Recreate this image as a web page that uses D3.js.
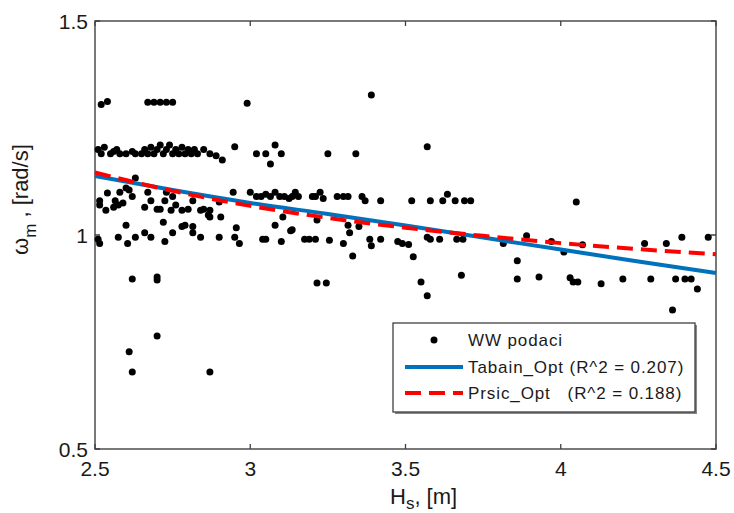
<!DOCTYPE html>
<meta charset="utf-8">
<style>
body { margin: 0; background: #fff; }
text { font-family: "Liberation Sans", Arial, sans-serif; fill: #1a1a1a; }
</style>
<div id="viz"></div>
<script src="https://d3js.org/d3.v7.min.js"></script>
<script>
// measured points [Hs, omega_m]
var wwData = [
  [2.52,1.305],[2.54,1.312],[2.67,1.31],[2.69,1.31],[2.71,1.31],[2.73,1.31],[2.75,1.31],[2.99,1.308],[3.39,1.327],
  [2.51,1.20],[2.52,1.19],[2.53,1.205],[2.55,1.19],[2.56,1.195],[2.57,1.20],[2.58,1.19],[2.60,1.19],[2.62,1.195],
  [2.63,1.19],[2.65,1.19],[2.66,1.20],[2.67,1.19],[2.68,1.205],[2.69,1.19],[2.70,1.20],[2.71,1.21],[2.72,1.19],
  [2.73,1.20],[2.74,1.21],[2.75,1.19],[2.76,1.20],[2.77,1.19],[2.78,1.205],[2.79,1.19],[2.80,1.20],[2.81,1.19],
  [2.82,1.20],[2.83,1.19],[2.85,1.20],[2.87,1.19],[2.89,1.185],[2.91,1.175],[2.95,1.206],[3.02,1.19],[3.05,1.19],
  [3.08,1.21],[3.10,1.19],[3.065,1.166],[3.25,1.19],[3.34,1.19],[3.57,1.206],
  [2.63,1.133],
  [2.515,1.07],[2.54,1.098],[2.535,1.058],[2.565,1.08],[2.575,1.07],[2.58,1.10],[2.60,1.11],[2.61,1.105],[2.62,1.09],
  [2.59,1.075],[2.56,1.065],[2.515,1.08],[2.67,1.10],[2.66,1.065],[2.68,1.08],[2.70,1.06],[2.71,1.06],[2.725,1.08],
  [2.73,1.10],[2.75,1.09],[2.745,1.058],[2.78,1.058],[2.815,1.08],[2.84,1.058],[2.85,1.06],[2.87,1.058],[2.905,1.042],
  [2.87,1.042],[2.865,1.047],[2.90,1.077],[2.945,1.10],[2.76,1.07],[2.80,1.06],
  [3.0,1.10],[3.02,1.09],[3.035,1.09],[3.05,1.095],[3.065,1.09],[3.08,1.10],[3.095,1.09],[3.11,1.09],[3.125,1.085],
  [3.135,1.09],[3.145,1.10],[3.155,1.09],[3.20,1.09],[3.21,1.09],[3.225,1.10],[3.235,1.085],[3.28,1.09],[3.30,1.09],
  [3.315,1.09],[3.36,1.09],[3.37,1.08],[3.42,1.08],[3.52,1.08],[3.58,1.08],[3.62,1.08],[3.635,1.095],[3.66,1.08],
  [3.69,1.08],[3.71,1.08],[4.05,1.077],
  [3.08,1.023],[3.105,1.042],[3.135,1.012],[3.215,1.035],[3.315,1.023],[3.32,1.005],[3.35,1.02],
  [2.60,1.023],[2.72,1.03],[2.78,1.02],[2.79,1.023],[2.815,1.02],[2.955,1.017],[3.13,1.01],[2.75,1.005],[2.66,1.005],[2.815,1.005],
  [2.51,0.99],[2.515,0.98],[2.575,0.995],[2.605,0.98],[2.63,0.995],[2.68,0.995],[2.725,0.985],[2.84,0.995],[2.90,0.995],
  [2.95,0.995],[2.965,0.98],[3.04,0.99],[3.05,0.99],[3.10,0.985],[3.175,0.99],[3.19,0.99],[3.21,0.99],[3.255,0.988],
  [3.30,0.98],[3.385,0.99],[3.39,0.975],[3.42,0.99],[3.475,0.985],[3.49,0.98],[3.51,0.978],[3.57,0.995],[3.58,0.99],
  [3.61,0.99],[3.665,0.99],[3.685,0.99],[3.815,0.98],[3.89,0.998],[3.97,0.985],[4.01,0.96],[4.07,0.977],[4.27,0.98],
  [4.34,0.98],[4.39,0.995],[4.475,0.995],
  [3.33,0.951],[3.525,0.949],[3.86,0.94],[2.62,0.897],[2.70,0.902],[2.70,0.895],[3.215,0.888],[3.245,0.888],[3.55,0.89],
  [3.57,0.858],[3.68,0.906],[3.86,0.897],[3.93,0.902],[4.03,0.90],[4.04,0.89],[4.055,0.89],[4.13,0.886],[4.20,0.897],
  [4.29,0.897],[4.37,0.897],[4.40,0.897],[4.42,0.897],[4.44,0.874],[4.36,0.825],
  [2.70,0.764],[2.61,0.727],[2.62,0.68],[2.87,0.68]
];

// fitted curves
var fitHs       = [2.5, 2.75, 3, 3.25, 3.5, 3.75, 4, 4.25, 4.5];
var tabainOmega = [1.138, 1.105, 1.075, 1.049, 1.022, 0.994, 0.966, 0.938, 0.911];
var prsicOmega  = [1.146, 1.103, 1.068, 1.040, 1.017, 0.998, 0.981, 0.967, 0.955];

var xTicks = [2.5, 3, 3.5, 4, 4.5];
var yTicks = [0.5, 1, 1.5];
var legendLabels = ["WW podaci", "Tabain_Opt (R^2 = 0.207)", "Prsic_Opt   (R^2 = 0.188)"];

var W = 734, H = 513;
var margin = {top: 21, right: 18, bottom: 64, left: 95};
var width  = W - margin.left - margin.right;
var height = H - margin.top - margin.bottom;

var svg = d3.select('#viz').append('svg')
    .attr('width', W).attr('height', H)
  .append('g')
    .attr('transform', 'translate(' + margin.left + ',' + margin.top + ')');

var x = d3.scaleLinear().domain([2.5, 4.5]).range([0, width]);
var y = d3.scaleLinear().domain([0.5, 1.5]).range([height, 0]);

var axisColor = '#404040';
var tickLen = 5;

// box
svg.append('rect')
    .attr('width', width).attr('height', height)
    .attr('fill', 'none').attr('stroke', axisColor).attr('stroke-width', 1.4);

// ticks on all four sides (inward)
svg.selectAll('.xt').data(xTicks).enter().append('path')
    .attr('d', function(d) { return 'M' + x(d) + ',' + height + 'v' + (-tickLen) + 'M' + x(d) + ',0v' + tickLen; })
    .attr('stroke', axisColor).attr('stroke-width', 1.3);
svg.selectAll('.yt').data(yTicks).enter().append('path')
    .attr('d', function(d) { return 'M0,' + y(d) + 'h' + tickLen + 'M' + width + ',' + y(d) + 'h' + (-tickLen); })
    .attr('stroke', axisColor).attr('stroke-width', 1.3);

// tick labels
svg.selectAll('.xl').data(xTicks).enter().append('text')
    .attr('x', function(d) { return x(d); })
    .attr('y', height + 27)
    .attr('text-anchor', 'middle')
    .style('font-size', '21px')
    .text(function(d) { return d; });
svg.selectAll('.yl').data(yTicks).enter().append('text')
    .attr('x', -7)
    .attr('y', function(d) { return y(d) + 8; })
    .attr('text-anchor', 'end')
    .style('font-size', '21px')
    .text(function(d) { return d; });

// axis labels
var xl = svg.append('text')
    .attr('x', 295).attr('y', height + 55)
    .style('font-size', '22px');
xl.append('tspan').text('H');
xl.append('tspan').attr('dy', 5).style('font-size', '17px').text('s');
xl.append('tspan').attr('dy', -5).text(', [m]');

var yl = svg.append('text')
    .attr('transform', 'translate(-67,' + 234 + ') rotate(-90)')
    .style('font-size', '22px');
yl.append('tspan').text('ω');
yl.append('tspan').attr('dy', 8).style('font-size', '17px').text('m');
yl.append('tspan').attr('dy', -8).text(' , [rad/s]');

// points
svg.append('g').selectAll('circle').data(wwData).enter().append('circle')
    .attr('cx', function(d) { return x(d[0]); })
    .attr('cy', function(d) { return y(d[1]); })
    .attr('r', 3.5)
    .attr('fill', '#000');

// fit lines
var line = d3.line().curve(d3.curveMonotoneX)
    .x(function(d) { return x(d[0]); })
    .y(function(d) { return y(d[1]); });

svg.append('path')
    .datum(fitHs.map(function(h, i) { return [h, tabainOmega[i]]; }))
    .attr('d', line)
    .attr('fill', 'none').attr('stroke', '#0072BD').attr('stroke-width', 4);
svg.append('path')
    .datum(fitHs.map(function(h, i) { return [h, prsicOmega[i]]; }))
    .attr('d', line)
    .attr('fill', 'none').attr('stroke', '#ff0000').attr('stroke-width', 4)
    .attr('stroke-dasharray', '16,8');

// legend
var lg = svg.append('g').attr('transform', 'translate(298,302)');
lg.append('rect').attr('x', 2).attr('y', 2).attr('width', 302).attr('height', 89).attr('fill', '#888');
lg.append('rect').attr('width', 302).attr('height', 89)
    .attr('fill', '#fff').attr('stroke', axisColor).attr('stroke-width', 1.3);

var rowY = [17, 44, 70];
lg.append('circle').attr('cx', 41).attr('cy', rowY[0]).attr('r', 3.5).attr('fill', '#000');
lg.append('line').attr('x1', 12).attr('x2', 70).attr('y1', rowY[1]).attr('y2', rowY[1])
    .attr('stroke', '#0072BD').attr('stroke-width', 4);
lg.append('line').attr('x1', 12).attr('x2', 70).attr('y1', rowY[2]).attr('y2', rowY[2])
    .attr('stroke', '#ff0000').attr('stroke-width', 4).attr('stroke-dasharray', '16,8');

lg.selectAll('.lt').data(legendLabels).enter().append('text')
    .attr('x', 75)
    .attr('y', function(d, i) { return rowY[i] + 6; })
    .attr('xml:space', 'preserve')
    .style('white-space', 'pre')
    .style('font-size', '17px')
    .style('letter-spacing', '0.9px')
    .text(function(d) { return d; });
</script>
